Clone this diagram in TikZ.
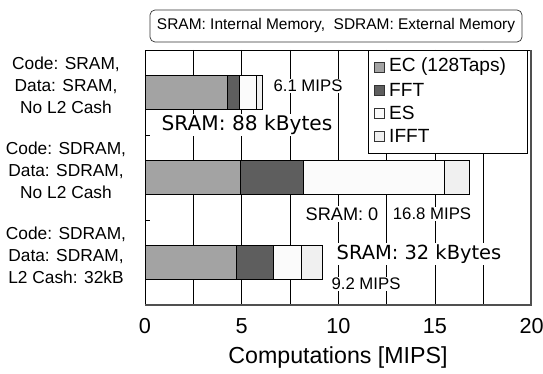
\documentclass[tikz,border=0pt]{standalone}
\usepackage{fontspec}
\setmainfont{Liberation Sans}
\newfontfamily\gothic{DejaVu Sans}

\definecolor{ecGris}{HTML}{A3A3A3}
\definecolor{fftGris}{HTML}{5E5E5E}
\definecolor{esGris}{HTML}{FBFBFB}
\definecolor{ifftGris}{HTML}{F0F0F0}
\definecolor{marco}{HTML}{505050}

\begin{document}
\begin{tikzpicture}[
    x=0.03cm, y=-0.03cm,
    % Estilo para los segmentos de las barras
    segmento/.style={draw=black, line width=0.8pt},
    % Estilo para las lineas de la rejilla
    rejilla/.style={draw=black, line width=0.5pt},
    % Estilo para las etiquetas de las categorias
    categoria/.style={align=center, inner sep=0pt,
        font=\fontsize{14.8}{18.7}\selectfont},
    % Estilo para las anotaciones dentro del grafico
    nota/.style={fill=white, inner sep=1pt},
    mips/.style={nota, font=\fontsize{14.3}{16}\selectfont},
    % Estilo para los cuadros de la leyenda
    cuadro/.style={draw=black!80, line width=0.5pt, minimum size=0.3cm, inner sep=0pt},
    leyenda/.style={right, inner sep=0pt, font=\fontsize{16.3}{18}\selectfont}
]
    \useasboundingbox (0,0) rectangle (543,374);

    % --- TITULO ---
    \draw[rounded corners=0.15cm, line width=0.6pt, draw=black!80] (150,10) rectangle (522,42);
    \node[font=\fontsize{13.2}{15}\selectfont] (titulo) at (336,26)
        {SRAM: Internal Memory,\ \ SDRAM: External Memory};

    % --- REJILLA (cada 2.5 MIPS) ---
    \foreach \v in {2.5,5,...,17.5}
        \draw[rejilla] ({145+19.33*\v},50) -- ({145+19.33*\v},305);

    % --- LEYENDA ---
    \draw[draw=black, fill=white, line width=0.6pt] (368,50) rectangle (527,153);
    \node[cuadro, fill=ecGris]   (cEC)   at (379,67)  {};
    \node[cuadro, fill=fftGris]  (cFFT)  at (379,90)  {};
    \node[cuadro, fill=esGris]   (cES)   at (379,113) {};
    \node[cuadro, fill=ifftGris] (cIFFT) at (379,136) {};
    \node[leyenda] (tEC)   at (389,67)  {EC (128Taps)};
    \node[leyenda] (tFFT)  at (389,90)  {FFT};
    \node[leyenda] (tES)   at (389,113) {ES};
    \node[leyenda] (tIFFT) at (389,136) {IFFT};

    % --- ANOTACIONES ---
    \node[mips] (mips1) at (308,86) {6.1 MIPS};
    \node[nota, font=\gothic\fontsize{17.2}{19}\selectfont] (sram1) at (247,125) {SRAM: 88 kBytes};
    \node[nota, font=\fontsize{15.5}{18}\selectfont] (sram2) at (342,214) {SRAM: 0};
    \node[mips] (mips2) at (432,214) {16.8 MIPS};
    \node[nota, font=\gothic\fontsize{16.6}{19}\selectfont] (sram3) at (419,254) {SRAM: 32 kBytes};
    \node[mips] (mips3) at (366,284) {9.2 MIPS};

    % --- BARRAS (en MIPS) ---
    \begin{scope}[shift={(145,0)}, x=0.5799cm]
        % Code: SRAM, Data: SRAM
        \draw[segmento, fill=ecGris]   (0,75.5)    rectangle (4.27,109.5);
        \draw[segmento, fill=fftGris]  (4.27,75.5) rectangle (4.89,109.5);
        \draw[segmento, fill=esGris]   (4.89,75.5) rectangle (5.75,109.5);
        \draw[segmento, fill=ifftGris] (5.75,75.5) rectangle (6.1,109.5);
        % Code: SDRAM, Data: SDRAM, sin L2
        \draw[segmento, fill=ecGris]   (0,160.5)    rectangle (4.95,194.5);
        \draw[segmento, fill=fftGris]  (4.95,160.5) rectangle (8.2,194.5);
        \draw[segmento, fill=esGris]   (8.2,160.5)  rectangle (15.5,194.5);
        \draw[segmento, fill=ifftGris] (15.5,160.5) rectangle (16.8,194.5);
        % Code: SDRAM, Data: SDRAM, L2 de 32kB
        \draw[segmento, fill=ecGris]   (0,245.5)    rectangle (4.72,279.5);
        \draw[segmento, fill=fftGris]  (4.72,245.5) rectangle (6.65,279.5);
        \draw[segmento, fill=esGris]   (6.65,245.5) rectangle (8.1,279.5);
        \draw[segmento, fill=ifftGris] (8.1,245.5)  rectangle (9.2,279.5);
    \end{scope}

    % --- MARCO DEL GRAFICO ---
    \draw[line width=0.6pt] (145,305) -- (145,50) -- (531,50);
    \draw[draw=marco, line width=1.5pt] (145,305) -- (531,305) -- (531,50);
    \draw[line width=0.6pt] (145,135) -- (150,135);
    \draw[line width=0.6pt] (145,220) -- (150,220);

    % --- CATEGORIAS ---
    \node[categoria] (cat1) at (66,85)  {Code: SRAM,\\Data: SRAM,\\No L2 Cash};
    \node[categoria] (cat2) at (66,170) {Code: SDRAM,\\Data: SDRAM,\\No L2 Cash};
    \node[categoria] (cat3) at (66,255) {Code: SDRAM,\\Data: SDRAM,\\L2 Cash: 32kB};

    % --- EJE X ---
    \foreach \v in {0,5,...,20}
        \node[font=\fontsize{18.5}{21}\selectfont] (x\v) at ({145+19.33*\v},326) {\v};
    \node[font=\fontsize{19.8}{22}\selectfont] (ejeX) at (338,357) {Computations [MIPS]};

\end{tikzpicture}
\end{document}
